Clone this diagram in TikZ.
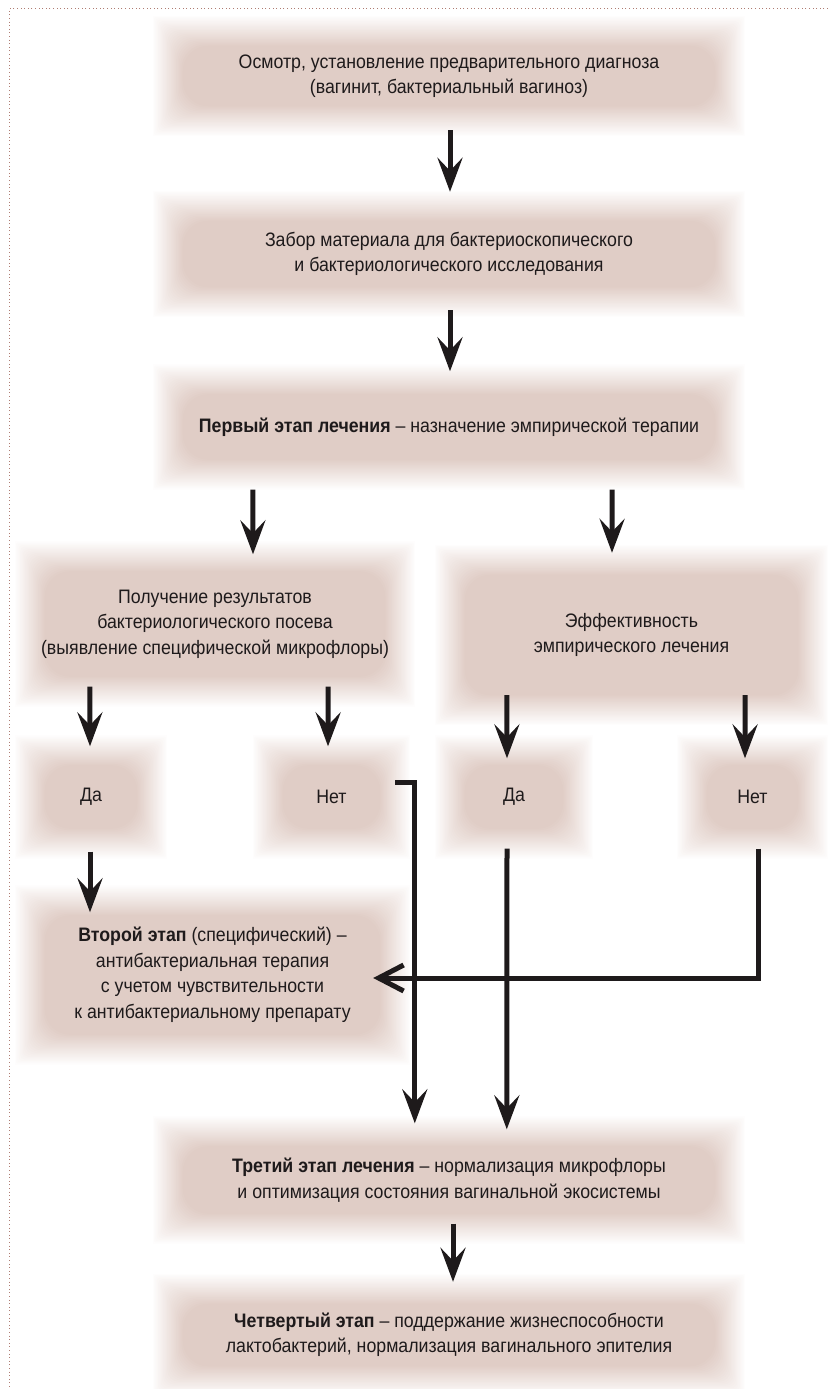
\documentclass[tikz,border=0pt]{standalone}
\usepackage{fontspec}
\setmainfont[FakeStretch=0.91]{Liberation Sans}
\usetikzlibrary{arrows.meta,calc}
\pgfdeclarelayer{bg}
\pgfsetlayers{bg,main}
\definecolor{boxc}{RGB}{224,205,198}
\definecolor{ink}{RGB}{30,26,27}
\definecolor{dotc}{RGB}{175,125,115}
\tikzset{
  box/.style={inner sep=0pt, align=center, text=ink, font=\fontsize{19.5}{25.5}\selectfont},
  arr/.style={draw=ink, line width=5pt, line join=miter, -{Stealth[length=34pt,width=25pt,inset=13pt]}},
  openarr/.style={draw=ink, line width=5pt, line join=miter, -{Straight Barb[length=25pt,width=26pt]}},
}
\newcommand\fuzzybox[1]{%
  \begin{pgfonlayer}{bg}
  \foreach \k in {0,...,23}{
    \pgfmathsetmacro\op{1/(24-\k)}
    \pgfmathsetmacro\rc{\k*1.1}
    \fill[boxc, fill opacity=\op, rounded corners=\rc pt]
      ($(#1.south west)+(1.3*\k,-1.3*\k)$) rectangle ($(#1.north east)+(-1.3*\k,1.3*\k)$);
  }
  \end{pgfonlayer}}
\begin{document}
\begin{tikzpicture}[x=1pt,y=-1pt]
\useasboundingbox (0,0) rectangle (830,1389);
\draw[dotc, line width=1pt, dash pattern=on 1pt off 2.6pt] (828,9) -- (9,9) -- (9,1389);

\node[box, minimum width=592pt, minimum height=120pt] (b1) at (449,76)
  {Осмотр, установление предварительного диагноза\\(вагинит, бактериальный вагиноз)};
\node[box, minimum width=592pt, minimum height=126pt] (b2) at (449,254)
  {Забор материала для бактериоскопического\\и бактериологического исследования};
\node[box, minimum width=592pt, minimum height=125pt] (b3) at (449,427)
  {\textbf{Первый этап лечения} – назначение эмпирической терапии};
\node[box, minimum width=400pt, minimum height=165pt] (b4l) at (215,624)
  {Получение результатов\\бактериологического посева\\(выявление специфической микрофлоры)};
\node[box, minimum width=393pt, minimum height=180pt] (b4r) at (631.5,635)
  {Эффективность\\эмпирического лечения};
\node[box, minimum width=152pt, minimum height=123pt] (dal) at (91,797) {Да};
\node[box, minimum width=157pt, minimum height=123pt] (netl) at (331.5,797) {Нет};
\node[box, minimum width=158pt, minimum height=123pt] (dar) at (514,797) {Да};
\node[box, minimum width=151pt, minimum height=123pt] (netr) at (752.5,797) {Нет};
\node[box, minimum width=395pt, minimum height=179pt] (b5) at (212.5,975)
  {\textbf{Второй этап} (специфический) –\\антибактериальная терапия\\с учетом чувствительности\\к антибактериальному препарату};
\node[box, minimum width=592pt, minimum height=127pt] (b6) at (449,1180)
  {\textbf{Третий этап лечения} – нормализация микрофлоры\\и оптимизация состояния вагинальной экосистемы};
\node[box, minimum width=592pt, minimum height=122pt] (b7) at (449,1335)
  {\textbf{Четвертый этап} – поддержание жизнеспособности\\лактобактерий, нормализация вагинального эпителия};

\fuzzybox{b1}\fuzzybox{b2}\fuzzybox{b3}\fuzzybox{b4l}\fuzzybox{b4r}
\fuzzybox{dal}\fuzzybox{netl}\fuzzybox{dar}\fuzzybox{netr}
\fuzzybox{b5}\fuzzybox{b6}\fuzzybox{b7}

\draw[arr] ($(b1.south)+(1,-6)$) -- ($(b2.north)+(1,1)$);
\draw[arr] ($(b2.south)+(1,-7)$) -- ($(b3.north)+(1,7)$);
\draw[arr] ($(b3.south west)+(100,0)$) -- ($(b4l.north)+(38,13)$);
\draw[arr] ($(b3.south east)+(-133,0)$) -- ($(b4r.north)+(-19.5,8)$);
\draw[arr] ($(b4l.south west)+(75,-20)$) -- ($(dal.north)+(-1,11)$);
\draw[arr] ($(b4l.south east)+(-87,-20)$) -- ($(netl.north)+(-3.5,11)$);
\draw[arr] ($(b4r.south west)+(72,-30)$) -- ($(dar.north)+(-7,23)$);
\draw[arr] ($(b4r.south east)+(-83,-30)$) -- ($(netr.north)+(-7.5,23)$);
\draw[arr] ($(dal.south)+(-1,-7)$) -- ($(b5.north)+(-122.5,27)$);
\draw[arr] ($(netl.east)+(-15,-14.5)$) -| ($(b6.north west)+(262,7)$);
\draw[arr] ($(dar.south)+(-7,-10)$) -- ($(b6.north west)+(354,13)$);
\draw[openarr] ($(netr.south)+(5.5,-10)$) |- ($(b5.east)+(-37,3)$);
\draw[arr] ($(b6.south)+(4,-20)$) -- ($(b7.north)+(4,8)$);
\end{tikzpicture}
\end{document}
